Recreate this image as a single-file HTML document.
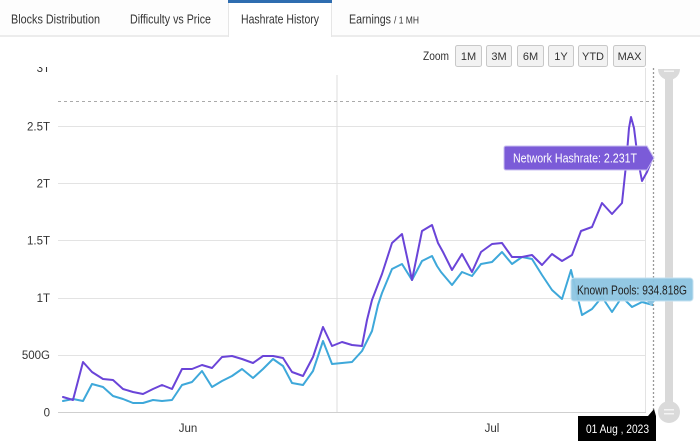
<!DOCTYPE html>
<html>
<head>
<meta charset="utf-8">
<style>
  html,body{margin:0;padding:0;background:#fff;}
  body{width:700px;height:447px;overflow:hidden;}
  svg{display:block;font-family:"Liberation Sans",sans-serif;}
</style>
</head>
<body>
<svg width="700" height="447" viewBox="0 0 700 447" xmlns="http://www.w3.org/2000/svg">
  <!-- Tab bar -->
  <rect x="0" y="0" width="700" height="37" fill="#fdfdfd"/>
  <rect x="0" y="35" width="228" height="2" fill="#ececec"/>
  <rect x="332" y="35" width="368" height="2" fill="#ececec"/>
  <rect x="228" y="0" width="104" height="38" fill="#fff"/>
  <line x1="228.5" y1="0" x2="228.5" y2="37" stroke="#e6e6e6"/>
  <line x1="331.5" y1="0" x2="331.5" y2="37" stroke="#e6e6e6"/>
  <rect x="228" y="0" width="104" height="3" fill="#2f6db0"/>
  <g font-size="12.5" fill="#333">
    <text x="11" y="23.5" textLength="89" lengthAdjust="spacingAndGlyphs">Blocks Distribution</text>
    <text x="130" y="23.5" textLength="81" lengthAdjust="spacingAndGlyphs">Difficulty vs Price</text>
    <text x="241" y="23.5" textLength="78" lengthAdjust="spacingAndGlyphs">Hashrate History</text>
    <text x="349" y="23.5" textLength="42" lengthAdjust="spacingAndGlyphs">Earnings</text>
    <text x="394" y="23.5" font-size="10" textLength="25" lengthAdjust="spacingAndGlyphs">/ 1 MH</text>
  </g>

  <!-- Zoom buttons -->
  <text x="423" y="60" font-size="12" fill="#333" textLength="26" lengthAdjust="spacingAndGlyphs">Zoom</text>
  <g stroke="#c8c8c8" fill="#f2f2f2">
    <rect x="455.5" y="45.5" width="26" height="21" rx="2"/>
    <rect x="486.5" y="45.5" width="25" height="21" rx="2"/>
    <rect x="517.5" y="45.5" width="26" height="21" rx="2"/>
    <rect x="548.5" y="45.5" width="25" height="21" rx="2"/>
    <rect x="578.5" y="45.5" width="29" height="21" rx="2"/>
    <rect x="613.5" y="45.5" width="32" height="21" rx="2"/>
  </g>
  <g font-size="11" fill="#333" text-anchor="middle">
    <text x="468.5" y="60">1M</text>
    <text x="499" y="60">3M</text>
    <text x="530.5" y="60">6M</text>
    <text x="561" y="60">1Y</text>
    <text x="593" y="60">YTD</text>
    <text x="629.5" y="60">MAX</text>
  </g>

  <!-- Y axis labels -->
  <g font-size="11.5" fill="#333" text-anchor="end">
    <svg x="0" y="67" width="60" height="20" overflow="hidden">
      <text x="50" y="5">3T</text>
    </svg>
    <text x="50" y="130.5">2.5T</text>
    <text x="50" y="187.5">2T</text>
    <text x="50" y="244.5">1.5T</text>
    <text x="50" y="302">1T</text>
    <text x="50" y="359">500G</text>
    <text x="50" y="416.5">0</text>
  </g>

  <!-- Grid -->
  <g stroke="#e3e3e3" stroke-width="1">
    <line x1="58" y1="126.5" x2="646" y2="126.5"/>
    <line x1="58" y1="183.5" x2="646" y2="183.5"/>
    <line x1="58" y1="240.5" x2="646" y2="240.5"/>
    <line x1="58" y1="298.5" x2="646" y2="298.5"/>
    <line x1="58" y1="355.5" x2="646" y2="355.5"/>
  </g>
  <line x1="58" y1="412.5" x2="646" y2="412.5" stroke="#cfcfcf" stroke-width="1"/>
  <line x1="337" y1="75" x2="337" y2="412" stroke="#dedede" stroke-width="1"/>
  <line x1="645.5" y1="68" x2="645.5" y2="412" stroke="#e3e3e3" stroke-width="1"/>
  <line x1="58" y1="101.5" x2="655" y2="101.5" stroke="#aaa" stroke-width="1" stroke-dasharray="3,3"/>

  <!-- X labels -->
  <g font-size="11.5" fill="#333" text-anchor="middle">
    <text x="188" y="432">Jun</text>
    <text x="492" y="432">Jul</text>
  </g>

  <!-- Series: Known Pools (blue) -->
  <polyline fill="none" stroke="#3ea8da" stroke-width="2" stroke-linejoin="round" stroke-linecap="round"
    points="63,401 73,399 83,401 92,384 103,387 113,396 123,399 133,403 143,403 153,400 162,401 172,400 182,385 192,382 202,371 212,387 222,381 232,376 242,369 253,378 263,369 273,359 283,366 292,383 303,385 313,371 323,341 332,364 342,363 352,362 362,351 372,331 378,305 382,293 392,269 402,264 412,280 422,261 432,256 437,266 441,272 452,285 462,272 472,276 481,264 492,262 502,252 512,264 522,257 532,259 542,275 552,290 562,299 571,270 582,315 592,309 602,297 612,312 622,297 632,307 642,302 653,305"/>

  <!-- Series: Network Hashrate (purple) -->
  <polyline fill="none" stroke="#6a44d8" stroke-width="2" stroke-linejoin="round" stroke-linecap="round"
    points="63,397 73,400 83,362 92,372 103,379 113,380 123,389 133,392 143,394 153,389 162,385 172,389 182,369 192,369 202,365 212,368 222,357 232,356 242,359 253,363 263,356 273,356 283,358 292,372 303,376 313,357 323,327 332,346 342,342 352,345 362,346 367,320 372,300 382,274 392,243 402,234 412,280 422,231 432,225 438,243 443,252 452,270 462,254 472,272 481,252 492,244 502,243 512,257 522,257 532,255 542,265 552,254 562,261 572,255 581,231 592,227 602,203 612,214 622,203 626,165 629,128 631,117 634,128 638,160 642,181 647,172 653,157"/>

  <!-- Crosshair dotted -->
  <line x1="653.5" y1="68" x2="653.5" y2="411" stroke="#999" stroke-width="1.3" stroke-dasharray="2,2"/>

  <!-- Scrollbar -->
  <rect x="665" y="72" width="8" height="340" fill="#d9d9d9"/>
  <svg x="655" y="69" width="30" height="20" overflow="hidden">
    <circle cx="14" cy="0" r="11" fill="#dadada"/>
    <rect x="9" y="1.5" width="10" height="1.5" fill="#f4f4f4"/>
  </svg>
  <circle cx="669" cy="412" r="11" fill="#dadada"/>
  <rect x="664" y="409" width="10" height="1.5" fill="#f4f4f4"/>
  <rect x="664" y="413" width="10" height="1.5" fill="#f4f4f4"/>

  <!-- Tooltip: Network Hashrate -->
  <path d="M506,146 L647,146 L654,158 L647,170 L506,170 Q504,170 504,168 L504,148 Q504,146 506,146 Z" fill="#7b5bd8" stroke="#c9bff0" stroke-width="1"/>
  <text x="513" y="162.5" font-size="12.5" fill="#fff" textLength="124" lengthAdjust="spacingAndGlyphs">Network Hashrate: 2.231T</text>

  <!-- Tooltip: Known Pools -->
  <rect x="571" y="278" width="122" height="23" rx="3" fill="#8dc5e2" fill-opacity="0.95" stroke="#c6e2f1" stroke-width="1"/>
  <path d="M647,301 L651,306 L655,301 Z" fill="#8dc5e2"/>
  <text x="577" y="294.5" font-size="13" fill="#222" textLength="110" lengthAdjust="spacingAndGlyphs">Known Pools: 934.818G</text>

  <!-- Date label -->
  <rect x="578" y="416" width="78" height="25" fill="#000"/>
  <path d="M648,416 L654,409 L656,416 Z" fill="#000"/>
  <text x="586" y="433" font-size="12" fill="#fff" textLength="63" lengthAdjust="spacingAndGlyphs">01 Aug , 2023</text>
</svg>
</body>
</html>
